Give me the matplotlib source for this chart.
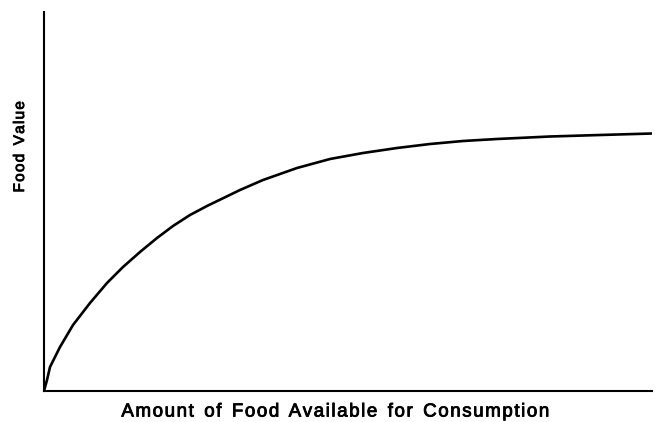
import matplotlib.pyplot as plt
import matplotlib.patheffects as pe

# values (axis units = pixels from origin)
amount = [0, 3, 6, 16, 29, 46, 63, 79, 96, 113, 129, 146, 163, 196, 219,
          253, 286, 319, 353, 386, 419, 453, 506, 556, 608]
food_value = [0, 11, 24, 44, 66, 88, 108, 124, 139, 153, 165, 176, 185, 201,
              211, 223, 232, 238, 243, 247, 250, 252, 254.5, 256, 257.5]

x_label = 'Amount of Food Available for Consumption'
y_label = 'Food Value'

plt.rcParams['font.family'] = ['Liberation Sans', 'DejaVu Sans']


def tracked(s, gap='\u200a'):
    # wide letter spacing like the old typeset figure
    return gap.join(s).replace(gap + ' ' + gap, '  ')


fig = plt.figure(figsize=(6.55, 4.22), dpi=100)
ax = fig.add_axes([44 / 655, 31 / 422, 608 / 655, 379 / 422])
ax.plot(amount, food_value, color='black', linewidth=1.9,
        solid_capstyle='round', solid_joinstyle='round')
ax.set_xlim(0, 608)
ax.set_ylim(0, 379)
ax.set_xticks([])
ax.set_yticks([])
for side in ['top', 'right']:
    ax.spines[side].set_visible(False)
for side in ['left', 'bottom']:
    ax.spines[side].set_linewidth(1.5)

heavy = [pe.withStroke(linewidth=0.6, foreground='black')]
fig.text(336 / 655, 1 - 412 / 422, tracked(x_label),
         ha='center', va='center', fontsize=13.5, path_effects=heavy)
fig.text(20 / 655, 1 - 147 / 422, tracked(y_label), rotation=90,
         ha='center', va='center', fontsize=11, path_effects=heavy)

fig.savefig('out.png', dpi=100, facecolor='white')
